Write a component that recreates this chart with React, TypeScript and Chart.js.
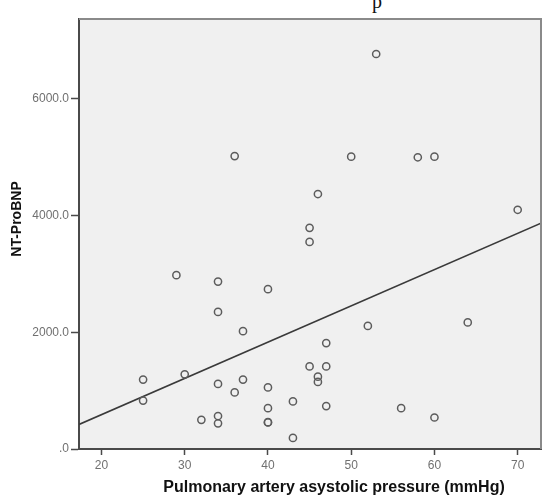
import { useEffect, useRef } from 'react'
import { Chart, registerables } from 'chart.js'

Chart.register(...registerables)

// pulmonary artery systolic pressure (mmHg) vs NT-ProBNP, one entry per patient
const pressure = [
  53, 36, 50, 58, 60, 46, 45, 45, 70, 29, 34, 40, 34, 37, 25, 30, 34, 37, 36, 40,
  25, 40, 32, 34, 34, 40, 40, 52, 64, 47, 45, 47, 46, 46, 43, 47, 56, 60, 43
]
const ntProBnp = [
  6770, 5020, 5010, 5000, 5010, 4370, 3790, 3550, 4100, 2980, 2870, 2740, 2350, 2020, 1190, 1280, 1115, 1190, 970, 1055,
  830, 700, 500, 565, 440, 455, 460, 2110, 2170, 1815, 1415, 1415, 1240, 1150, 815, 735, 700, 540, 190
]

// fitted regression line, at the two ends of the x axis
const fitX = [17.3, 72.8]
const fitY = [420, 3870]

const xTicks = [20, 30, 40, 50, 60, 70]
const yTicks = [0, 2000, 4000, 6000]

const xTitle = 'Pulmonary artery asystolic pressure (mmHg)'
const yTitle = 'NT-ProBNP'

const FONT = "Arial, 'Liberation Sans', sans-serif"

const spssFrame = {
  id: 'spssFrame',
  beforeDraw(chart: Chart) {
    const { ctx, chartArea: a } = chart
    ctx.save()
    ctx.fillStyle = '#f0f0f0'
    ctx.fillRect(a.left, a.top, a.right - a.left, a.bottom - a.top)
    ctx.restore()
  },
  afterDraw(chart: Chart) {
    const { ctx, chartArea: a } = chart
    ctx.save()
    // top and right edges of the frame
    ctx.strokeStyle = '#8a8a8a'
    ctx.lineWidth = 2
    ctx.beginPath()
    ctx.moveTo(a.left, a.top)
    ctx.lineTo(a.right, a.top)
    ctx.lineTo(a.right, a.bottom)
    ctx.stroke()

    // axis titles
    ctx.fillStyle = '#111'
    ctx.textAlign = 'center'
    ctx.textBaseline = 'middle'
    ctx.font = `bold 16px ${FONT}`
    ctx.fillText(xTitle, 334, 488)
    ctx.translate(17, 219)
    ctx.rotate(-Math.PI / 2)
    ctx.font = `bold 14px ${FONT}`
    ctx.fillText(yTitle, 0, 0)
    ctx.restore()
  }
}

function ScatterChart() {
  const chartRef = useRef<HTMLCanvasElement>(null)
  const chartInstance = useRef<Chart | null>(null)

  useEffect(() => {
    if (!chartRef.current) return
    const ctx = chartRef.current.getContext('2d')
    if (!ctx) return

    chartInstance.current = new Chart(ctx, {
      type: 'scatter',
      data: {
        datasets: [
          {
            label: 'Patients',
            data: pressure.map((x, i) => ({ x, y: ntProBnp[i] })),
            pointStyle: 'circle',
            pointRadius: 3.6,
            pointHoverRadius: 3.6,
            pointBorderWidth: 1.5,
            borderColor: '#5c5c5c',
            backgroundColor: 'rgba(0, 0, 0, 0)'
          },
          {
            label: 'Fit',
            data: fitX.map((x, i) => ({ x, y: fitY[i] })),
            showLine: true,
            borderColor: '#3a3a3a',
            borderWidth: 1.6,
            pointRadius: 0,
            pointHoverRadius: 0
          }
        ]
      },
      options: {
        responsive: true,
        maintainAspectRatio: false,
        animation: false,
        layout: {
          padding: { top: 19, right: 13, left: 0, bottom: 0 }
        },
        plugins: {
          legend: { display: false },
          tooltip: { enabled: false },
          title: { display: false }
        },
        scales: {
          x: {
            type: 'linear',
            min: 17.3,
            max: 72.8,
            afterFit: (scale: any) => { scale.height = 52 },
            afterBuildTicks: (scale: any) => {
              scale.ticks = xTicks.map((value) => ({ value }))
            },
            border: { display: true, color: '#4a4a4a', width: 2 },
            grid: {
              display: true,
              drawOnChartArea: false,
              drawTicks: true,
              tickLength: 6,
              tickColor: '#4a4a4a',
              tickWidth: 1.5
            },
            ticks: {
              padding: 3,
              color: '#707070',
              font: { family: FONT, size: 12 },
              maxRotation: 0
            },
            title: { display: false }
          },
          y: {
            type: 'linear',
            min: 0,
            max: 7370,
            afterFit: (scale: any) => { scale.width = 79 },
            afterBuildTicks: (scale: any) => {
              scale.ticks = yTicks.map((value) => ({ value }))
            },
            border: { display: true, color: '#4a4a4a', width: 2 },
            grid: {
              display: true,
              drawOnChartArea: false,
              drawTicks: true,
              tickLength: 8,
              tickColor: '#4a4a4a',
              tickWidth: 1.5
            },
            ticks: {
              padding: 2,
              color: '#707070',
              font: { family: FONT, size: 12 },
              callback: (value) => (Number(value) === 0 ? '.0' : Number(value).toFixed(1))
            },
            title: { display: false }
          }
        }
      },
      plugins: [spssFrame]
    })

    return () => {
      if (chartInstance.current) {
        chartInstance.current.destroy()
        chartInstance.current = null
      }
    }
  }, [])

  return <canvas ref={chartRef}></canvas>
}

export default function App() {
  return (
    <div style={{ position: 'absolute', left: 0, top: 0, width: 554, height: 501, background: '#fff', overflow: 'hidden' }}>
      {/* tail of a caption line cut off above the figure */}
      <div
        style={{
          position: 'absolute',
          left: 372,
          top: -9,
          fontFamily: "'Liberation Serif', serif",
          fontSize: 20,
          lineHeight: '20px',
          color: '#111'
        }}
      >
        p
      </div>
      <div style={{ position: 'absolute', left: 0, top: 0, width: 554, height: 501 }}>
        <ScatterChart />
      </div>
    </div>
  )
}
